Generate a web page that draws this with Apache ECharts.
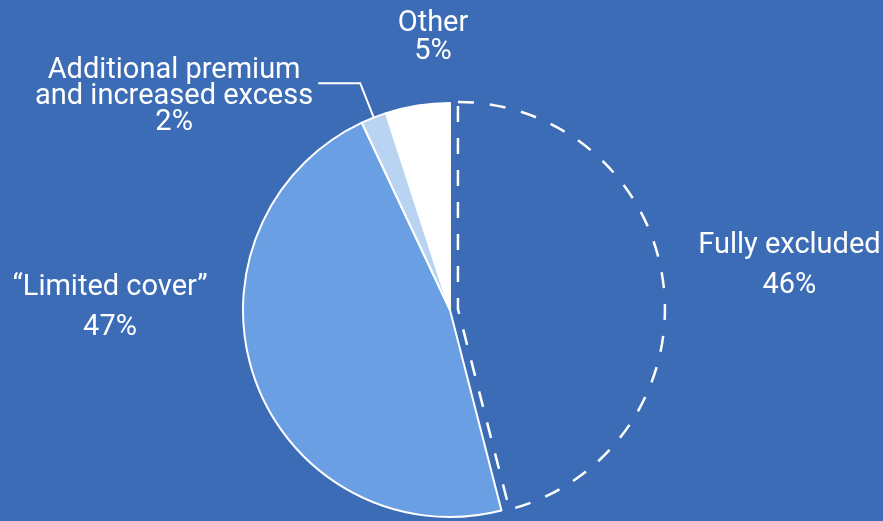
<!DOCTYPE html>
<html>
<head>
<meta charset="utf-8">
<script src="https://cdn.jsdelivr.net/npm/echarts@6/dist/echarts.min.js"></script>
<style>
    html, body { margin: 0; padding: 0; background: #3b6cb5; }
    #main { width: 883px; height: 521px; }
</style>
</head>
<body>
<div id="main"></div>
<script>
// slices, clockwise from 12 o'clock
const categories = ['Fully excluded', '“Limited cover”', 'Additional premium\nand increased excess', 'Other'];
const shares = [46, 47, 2, 5];

const bg = '#3b6cb5';
const sliceColors = [bg, '#6a9fe4', '#b9d3f3', '#ffffff'];
const fontSize = 29;

// free-standing labels: centre of the text block + line height
const labelSpots = {
    '“Limited cover”': [110, 308, 40],
    'Other': [433, 38, 28]
};

// every line of a label centred inside its block
function centredLines(lh) {
    return {
        formatter: function (p) {
            return (p.name + '\n' + p.value + '%').split('\n').map(function (s) {
                return '{c|' + s + '}';
            }).join('\n');
        },
        rich: {c: {align: 'center', color: '#fff', fontSize: fontSize, lineHeight: lh, fontFamily: 'Roboto'}}
    };
}

let chart = echarts.init(document.getElementById('main'));

const data = categories.map(function (name, i) {
    let item = {
        name: name,
        value: shares[i],
        itemStyle: {color: sliceColors[i], borderColor: '#fff', borderWidth: 2}
    };
    if (i === 0) {
        // the excluded share is pulled out and only outlined
        item.selected = true;
        item.itemStyle = {color: 'rgba(0,0,0,0)', borderColor: '#fff', borderWidth: 2.5, borderType: [16, 16]};
        item.select = {itemStyle: item.itemStyle};
        item.label = Object.assign({lineHeight: 40, padding: [0, 0, 30, 0]}, centredLines(40));
        item.labelLine = {show: false, length: 15, length2: 15};
    } else if (labelSpots[name]) {
        item.labelLine = {show: false};
        item.label = {lineHeight: labelSpots[name][2]};
    } else {
        item.label = Object.assign({lineHeight: 26, padding: [28, 0, 0, 0]}, centredLines(26));
        item.labelLine = {show: true, length: 37, length2: 42, lineStyle: {color: '#fff', width: 2}};
    }
    return item;
});

const option = {
    backgroundColor: bg,
    animation: false,
    series: [
        {
            type: 'pie',
            center: [450, 310],
            radius: 207,
            startAngle: 90,
            clockwise: true,
            selectedMode: 'single',
            selectedOffset: 8,
            avoidLabelOverlap: false,
            emphasis: {disabled: true},
            label: {
                show: true,
                position: 'outside',
                color: '#fff',
                fontSize: fontSize,
                fontFamily: 'Roboto',
                formatter: '{b}\n{c}%'
            },
            labelLayout: function (p) {
                const spot = labelSpots[categories[p.dataIndex]];
                if (!spot) return;
                return {x: spot[0], y: spot[1], align: 'center', verticalAlign: 'middle'};
            },
            data: data
        }
    ]
};
chart.setOption(option);
window.addEventListener('resize', function () {
    chart.resize();
});
</script>
</body>
</html>
